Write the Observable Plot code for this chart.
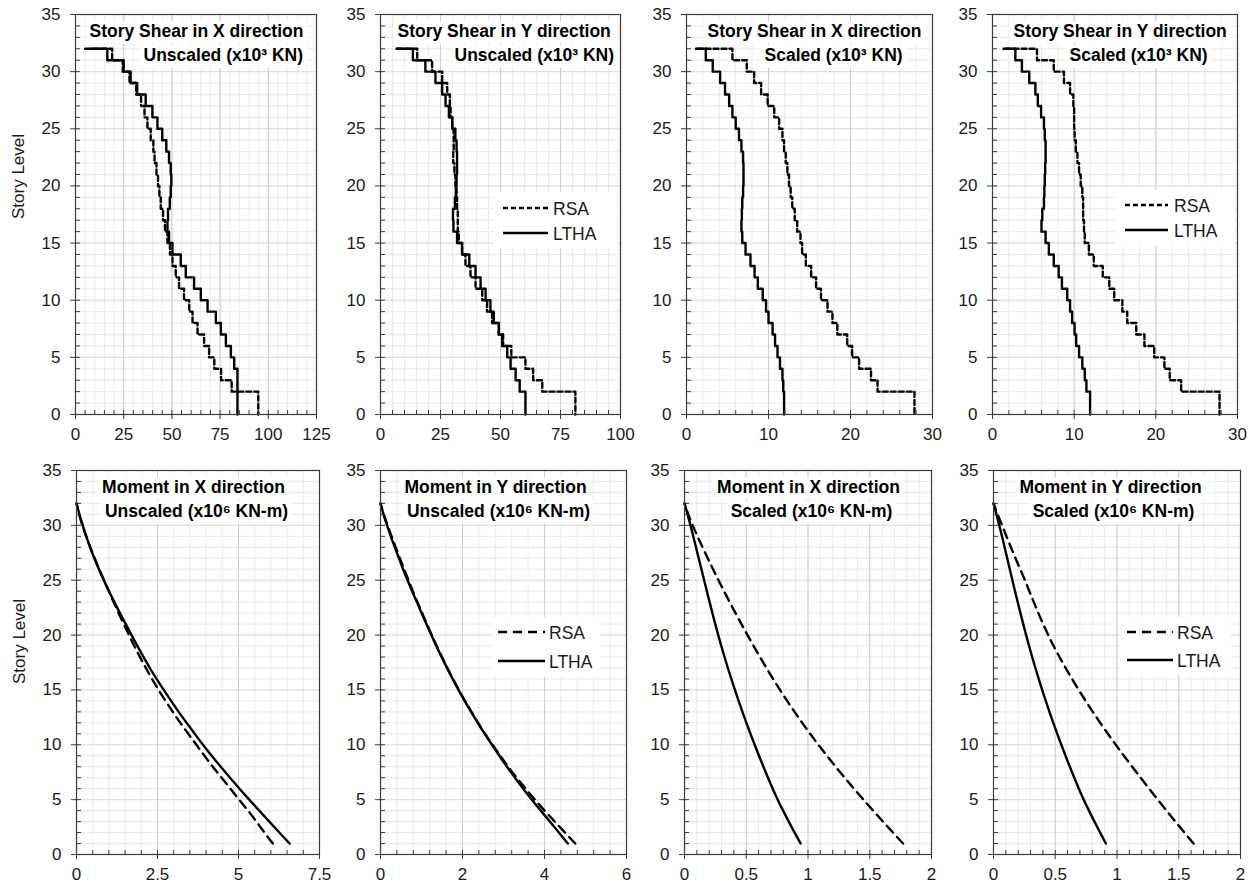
<!DOCTYPE html>
<html><head><meta charset="utf-8">
<script src="https://cdn.jsdelivr.net/npm/d3@7"></script>
<script src="https://cdn.jsdelivr.net/npm/@observablehq/plot@0.6"></script>
<style>
html,body{margin:0;padding:0;background:#fff;overflow:hidden;}
#chart{position:relative;width:1254px;height:883px;font-family:"Liberation Sans",Arial,Helvetica,sans-serif;}
#chart svg{position:absolute;overflow:visible;}
</style></head><body><div id="chart"></div>
<script>
// ---------- DATA ----------
// Story shear per story (index 0 = story 1 ... index 31 = story 32), plus roof-point value at level 32
const shearXUnscaledRSA  = [94.8,94.8,81.0,75.5,72.0,69.3,66.7,63.3,60.7,59.0,56.3,53.7,52.0,50.3,49.0,47.7,46.4,45.4,44.2,43.5,42.8,42.0,41.0,40.4,39.0,37.3,35.8,34.0,31.5,28.0,24.5,19.0];
const shearXUnscaledRSARoof = 5.0;
const shearXUnscaledLTHA = [84.0,84.0,84.0,84.0,82.3,80.6,78.0,75.4,72.8,68.5,65.0,61.5,57.2,54.6,50.3,48.5,47.7,48.0,48.9,49.4,49.7,49.4,48.5,47.1,45.0,42.5,39.9,36.4,32.0,28.6,25.0,16.5];
const shearXUnscaledLTHARoof = 7.5;

const shearYUnscaledRSA  = [81.2,81.2,67.4,63.6,60.4,54.5,51.1,49.3,46.5,44.4,42.4,39.6,37.5,35.4,34.0,32.6,32.2,32.2,31.9,31.7,31.2,30.8,30.3,30.5,30.5,29.9,29.2,28.9,27.8,25.7,21.5,15.3];
const shearYUnscaledRSARoof = 7.0;
const shearYUnscaledLTHA = [60.4,60.4,58.0,56.3,54.2,52.8,50.7,49.3,47.2,45.8,43.8,41.7,39.6,37.0,34.0,31.9,30.4,30.2,31.0,31.4,31.7,31.9,31.9,31.7,31.2,29.9,28.5,27.1,25.7,22.9,18.7,13.5];
const shearYUnscaledLTHARoof = 6.7;

const shearXScaledRSA  = [27.8,27.8,23.3,22.5,21.05,20.2,19.6,18.4,17.8,17.2,16.4,15.8,15.2,14.55,14.1,13.9,13.5,13.2,12.9,12.7,12.5,12.3,12.1,11.9,11.7,11.3,10.7,9.9,9.1,8.25,7.35,5.6];
const shearXScaledRSARoof = 1.35;
const shearXScaledLTHA = [11.9,11.9,11.8,11.7,11.4,11.1,10.8,10.5,10.0,9.7,9.3,8.7,8.3,7.8,7.2,6.8,6.7,6.75,6.8,6.9,6.95,6.95,6.9,6.7,6.4,6.0,5.6,5.2,4.7,4.1,3.2,2.35];
const shearXScaledLTHARoof = 1.15;

const shearYScaledRSA  = [27.8,27.8,23.1,21.7,21.05,19.8,18.6,17.6,16.5,15.9,14.9,14.3,13.5,12.4,11.8,11.3,11.2,11.1,11.1,11.0,10.8,10.6,10.4,10.2,10.05,10.0,10.0,9.9,9.5,8.75,7.5,5.45];
const shearYScaledRSARoof = 1.6;
const shearYScaledLTHA = [11.95,11.95,11.5,11.3,11.0,10.6,10.25,10.05,9.75,9.5,9.15,8.5,8.1,7.5,6.9,6.5,6.0,6.1,6.3,6.35,6.4,6.45,6.5,6.5,6.4,6.3,5.95,5.55,5.25,4.5,3.6,2.8];
const shearYScaledLTHARoof = 1.35;

// Overturning moment at story levels 1..32
const momentXUnscaledRSA  = [6.06,5.8,5.55,5.3,5.02,4.75,4.48,4.2,3.95,3.7,3.45,3.2,2.97,2.75,2.53,2.33,2.14,1.96,1.78,1.62,1.46,1.3,1.15,1.0,0.85,0.7,0.56,0.42,0.3,0.18,0.08,0];
const momentXUnscaledLTHA = [6.58,6.26,5.95,5.64,5.33,5.03,4.74,4.45,4.17,3.9,3.65,3.4,3.15,2.92,2.69,2.47,2.26,2.07,1.88,1.7,1.52,1.34,1.17,1.0,0.84,0.69,0.55,0.42,0.3,0.19,0.09,0];
const momentYUnscaledRSA  = [4.75,4.5,4.25,4.0,3.76,3.54,3.32,3.11,2.92,2.73,2.55,2.38,2.22,2.06,1.91,1.77,1.63,1.5,1.37,1.25,1.13,1.02,0.9,0.79,0.68,0.58,0.47,0.37,0.27,0.17,0.08,0];
const momentYUnscaledLTHA = [4.57,4.35,4.13,3.91,3.69,3.48,3.28,3.08,2.9,2.72,2.54,2.37,2.21,2.05,1.9,1.76,1.62,1.49,1.36,1.24,1.12,1.0,0.89,0.77,0.66,0.55,0.45,0.35,0.25,0.16,0.07,0];
const momentXScaledRSA  = [1.77,1.688,1.607,1.527,1.449,1.372,1.297,1.224,1.153,1.084,1.017,0.953,0.891,0.831,0.773,0.717,0.663,0.611,0.56,0.51,0.461,0.413,0.366,0.32,0.275,0.231,0.188,0.146,0.105,0.065,0.03,0];
const momentXScaledLTHA = [0.94,0.891,0.844,0.798,0.754,0.714,0.676,0.639,0.603,0.568,0.534,0.501,0.469,0.438,0.408,0.379,0.351,0.324,0.298,0.273,0.249,0.226,0.203,0.181,0.159,0.137,0.115,0.093,0.071,0.049,0.025,0];
const momentYScaledRSA  = [1.62,1.546,1.473,1.401,1.33,1.26,1.191,1.123,1.056,0.99,0.926,0.864,0.804,0.746,0.69,0.636,0.584,0.534,0.486,0.443,0.402,0.363,0.326,0.29,0.255,0.216,0.178,0.141,0.105,0.07,0.033,0];
const momentYScaledLTHA = [0.91,0.863,0.817,0.773,0.73,0.691,0.654,0.618,0.583,0.549,0.516,0.484,0.453,0.423,0.394,0.366,0.339,0.313,0.288,0.264,0.241,0.218,0.196,0.174,0.153,0.132,0.111,0.09,0.069,0.047,0.024,0];

// Tick labels
const yTicks = [0,5,10,15,20,25,30,35];
const xTicksShearXUnscaled = [0,25,50,75,100,125];
const xTicksShearYUnscaled = [0,25,50,75,100];
const xTicksShearScaled = [0,10,20,30];
const xTicksMomentXUnscaled = [0,2.5,5,7.5];
const xTicksMomentYUnscaled = [0,2,4,6];
const xTicksMomentScaled = [0,0.5,1,1.5,2];

const seriesNames = ["RSA","LTHA"];
const yLabel = "Story Level";

// ---------- LAYOUT ----------
const FONT = '"Liberation Sans", Arial, Helvetica, sans-serif';
const ML = 70, MR = 22, MT = 12, MB = 42;

const panels = [
  {kind:"shear", left:75, top:14, w:241, h:400, xMax:125, ticks:xTicksShearXUnscaled, minor:5,
   rsa:shearXUnscaledRSA, rsaRoof:shearXUnscaledRSARoof, ltha:shearXUnscaledLTHA, lthaRoof:shearXUnscaledLTHARoof,
   t1:"Story Shear in X direction", t2:"Unscaled (x10³ KN)", tAlign:"start", t1dx:14, t2dx:68, ylabel:true, ylabDy:162},
  {kind:"shear", left:380, top:14, w:240, h:400, xMax:100, ticks:xTicksShearYUnscaled, minor:5,
   rsa:shearYUnscaledRSA, rsaRoof:shearYUnscaledRSARoof, ltha:shearYUnscaledLTHA, lthaRoof:shearYUnscaledLTHARoof,
   t1:"Story Shear in Y direction", t2:"Unscaled (x10³ KN)", tAlign:"start", t1dx:17, t2dx:74,
   legend:{lx1:123, lx2:168, tx:173, y1:194, y2:219, bx:114, by:178, bw:124, bh:56}},
  {kind:"shear", left:686, top:14, w:246, h:400, xMax:30, ticks:xTicksShearScaled, minor:2,
   rsa:shearXScaledRSA, rsaRoof:shearXScaledRSARoof, ltha:shearXScaledLTHA, lthaRoof:shearXScaledLTHARoof,
   t1:"Story Shear in X direction", t2:"Scaled (x10³ KN)", tAlign:"start", t1dx:21, t2dx:78},
  {kind:"shear", left:992, top:14, w:245, h:400, xMax:30, ticks:xTicksShearScaled, minor:2,
   rsa:shearYScaledRSA, rsaRoof:shearYScaledRSARoof, ltha:shearYScaledLTHA, lthaRoof:shearYScaledLTHARoof,
   t1:"Story Shear in Y direction", t2:"Scaled (x10³ KN)", tAlign:"start", t1dx:21, t2dx:77,
   legend:{lx1:133, lx2:176, tx:182, y1:191, y2:216, bx:123, by:176, bw:120, bh:56}},
  {kind:"moment", left:76, top:470, w:243, h:384, xMax:7.5, ticks:xTicksMomentXUnscaled, minor:0.5,
   rsa:momentXUnscaledRSA, ltha:momentXUnscaledLTHA,
   t1:"Moment in X direction", t2:"Unscaled (x10⁶ KN-m)", tAlign:"middle", t1dx:117, t2dx:120, ylabel:true, ylabDy:171},
  {kind:"moment", left:380, top:470, w:246, h:384, xMax:6, ticks:xTicksMomentYUnscaled, minor:0.4,
   rsa:momentYUnscaledRSA, ltha:momentYUnscaledLTHA,
   t1:"Moment in Y direction", t2:"Unscaled (x10⁶ KN-m)", tAlign:"middle", t1dx:115, t2dx:118,
   legend:{lx1:118, lx2:165, tx:169, y1:162, y2:191, bx:112, by:147, bw:108, bh:60}},
  {kind:"moment", left:684, top:470, w:247, h:384, xMax:2, ticks:xTicksMomentScaled, minor:0.1,
   rsa:momentXScaledRSA, ltha:momentXScaledLTHA,
   t1:"Moment in X direction", t2:"Scaled (x10⁶ KN-m)", tAlign:"middle", t1dx:124, t2dx:127},
  {kind:"moment", left:993, top:470, w:247, h:384, xMax:2, ticks:xTicksMomentScaled, minor:0.1,
   rsa:momentYScaledRSA, ltha:momentYScaledLTHA,
   t1:"Moment in Y direction", t2:"Scaled (x10⁶ KN-m)", tAlign:"middle", t1dx:117, t2dx:120,
   legend:{lx1:134, lx2:180, tx:184, y1:162, y2:190, bx:126, by:147, bw:112, bh:58}}
];

function stepPoints(values, roof) {
  const pts = [{x: roof, y: 32}];
  for (let i = values.length; i >= 1; i--) {
    pts.push({x: values[i - 1], y: i});
    pts.push({x: values[i - 1], y: i - 1});
  }
  return pts;
}
function levelPoints(values) {
  return values.map((v, i) => ({x: v, y: i + 1}));
}

const root = document.getElementById("chart");

panels.forEach(p => {
  const shear = p.kind === "shear";
  const rsaPts = shear ? stepPoints(p.rsa, p.rsaRoof) : levelPoints(p.rsa);
  const lthaPts = shear ? stepPoints(p.ltha, p.lthaRoof) : levelPoints(p.ltha);
  const dash = shear ? "5,3" : "9,6";
  const nMinor = Math.round(p.xMax / p.minor);
  const minorX = d3.range(0, nMinor + 1).map(k => k * p.minor);
  const minorY = d3.range(0, 36);
  const curve = shear ? "linear" : "basis";

  const marks = [
    Plot.gridX(minorX, {stroke: "#ececec", strokeOpacity: 1}),
    Plot.gridY(minorY, {stroke: "#e9e9e9", strokeOpacity: 1}),
    Plot.gridY(yTicks, {stroke: "#dedede", strokeOpacity: 1}),
    Plot.gridX(p.ticks, {stroke: "#cdcdcd", strokeOpacity: 1}),
    Plot.line(rsaPts, {x: "x", y: "y", stroke: "#000", strokeWidth: 2.4, strokeDasharray: dash, curve}),
    Plot.line(lthaPts, {x: "x", y: "y", stroke: "#000", strokeWidth: 2.4, curve}),
    Plot.frame({stroke: "#3a3a3a", strokeWidth: 1.2}),
    Plot.tickX(minorX, {insetTop: p.h - 4, stroke: "#3a3a3a", strokeWidth: 1}),
    Plot.tickY(minorY, {insetRight: p.w - 5, stroke: "#3a3a3a", strokeWidth: 1}),
    Plot.axisX(p.ticks, {tickSize: 5, tickPadding: 8, fontSize: 17, label: null, tickFormat: d => String(d), stroke: "#3a3a3a", fill: "#1a1a1a"}),
    Plot.axisY(yTicks, {tickSize: 5, tickPadding: 10, fontSize: 17, label: null, tickFormat: d => String(d), stroke: "#3a3a3a", fill: "#1a1a1a"}),
    Plot.text([p.t1], {text: d => d, frameAnchor: "top-left", dx: p.t1dx, dy: 22, textAnchor: p.tAlign, lineAnchor: "bottom", fontWeight: "bold", fontSize: 17.5, fill: "#000"}),
    Plot.text([p.t2], {text: d => d, frameAnchor: "top-left", dx: p.t2dx, dy: 46, textAnchor: p.tAlign, lineAnchor: "bottom", fontWeight: "bold", fontSize: 17.5, fill: "#000"})
  ];
  if (p.ylabel) {
    marks.push(Plot.text([yLabel], {text: d => d, frameAnchor: "top-left", dx: -57, dy: p.ylabDy, rotate: -90, textAnchor: "middle", lineAnchor: "middle", fontSize: 17, fill: "#1a1a1a"}));
  }

  const svg = Plot.plot({
    width: p.w + ML + MR, height: p.h + MT + MB,
    marginLeft: ML, marginRight: MR, marginTop: MT, marginBottom: MB,
    x: {domain: [0, p.xMax], label: null},
    y: {domain: [0, 35], label: null},
    style: {fontFamily: FONT, background: "transparent", color: "#1a1a1a", overflow: "visible"},
    marks
  });
  svg.style.left = (p.left - ML) + "px";
  svg.style.top = (p.top - MT) + "px";
  root.appendChild(svg);

  // white boxes behind titles
  d3.select(svg).selectAll('g[font-weight="bold"] text').each(function() {
    const bb = this.getBBox();
    const r = document.createElementNS("http://www.w3.org/2000/svg", "rect");
    r.setAttribute("x", bb.x - 4);
    r.setAttribute("y", bb.y + 1);
    r.setAttribute("width", bb.width + 8);
    r.setAttribute("height", bb.height + 2);
    r.setAttribute("fill", "#fff");
    r.setAttribute("stroke", "none");
    const tr = this.getAttribute("transform");
    if (tr) r.setAttribute("transform", tr);
    this.parentNode.insertBefore(r, this);
  });

  // legend
  if (p.legend) {
    const L = p.legend;
    const g = d3.select(svg).append("g").attr("font-family", FONT).attr("font-size", 17.5).attr("text-anchor", "start");
    g.append("rect").attr("x", ML + L.bx).attr("y", MT + L.by).attr("width", L.bw).attr("height", L.bh).attr("fill", "#fff");
    [[L.y1, dash], [L.y2, null]].forEach(([yy, da], i) => {
      const ln = g.append("line").attr("x1", ML + L.lx1).attr("x2", ML + L.lx2)
        .attr("y1", MT + yy).attr("y2", MT + yy).attr("stroke", "#000").attr("stroke-width", 2.4);
      if (da) ln.attr("stroke-dasharray", da);
      g.append("text").attr("x", ML + L.tx).attr("y", MT + yy + 6.5).attr("fill", "#1a1a1a").attr("text-anchor", "start").text(seriesNames[i]);
    });
  }
});
</script>
</body></html>
